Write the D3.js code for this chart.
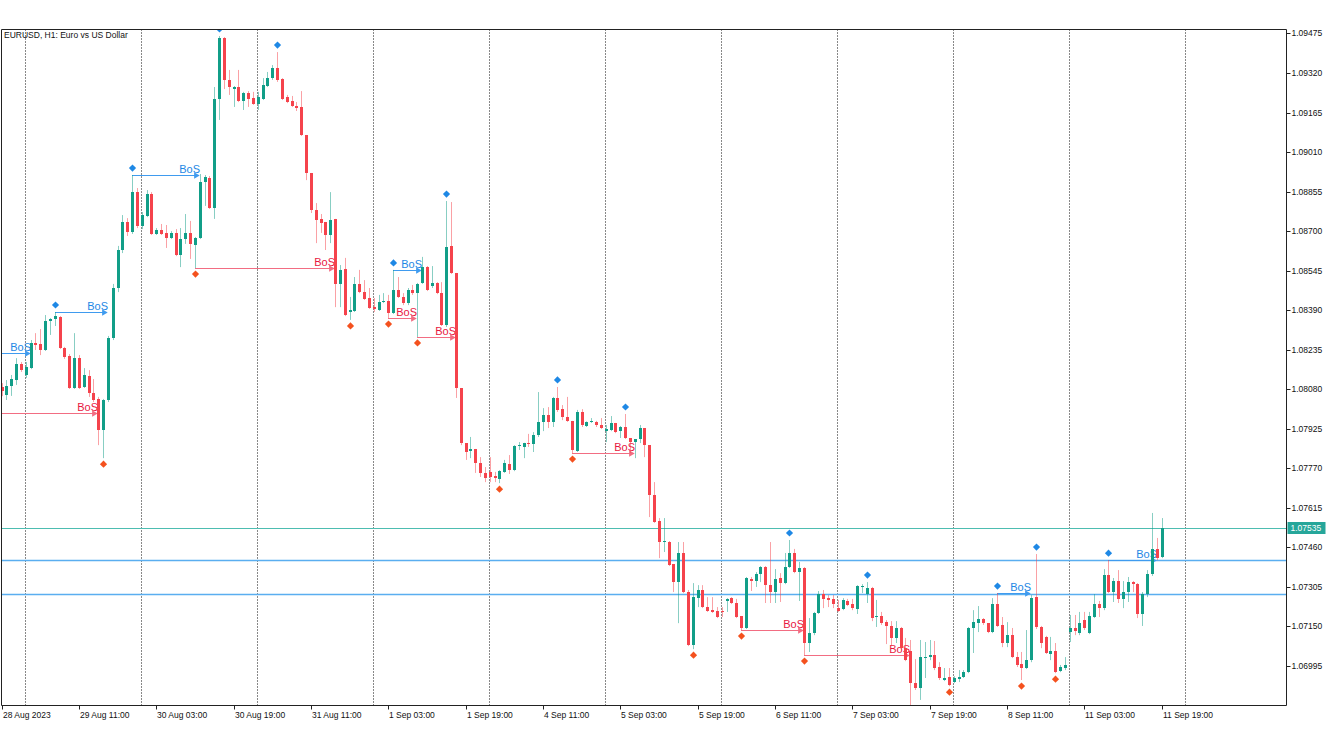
<!DOCTYPE html>
<html>
<head>
<meta charset="utf-8">
<script src="https://cdn.jsdelivr.net/npm/d3@7"></script>
<style>
  body { margin: 0; background: #fff; }
  svg { display: block; }
  text { font-family: "Liberation Sans", Arial, sans-serif; }
</style>
</head>
<body>
<svg id="chart" width="1333" height="750"></svg>
<script>
// EURUSD, H1 - 28 Aug 2023 19:00 .. 11 Sep 2023 19:00

var tradingDays = ["2023-08-28", "2023-08-29", "2023-08-30", "2023-08-31", "2023-09-01",
                   "2023-09-04", "2023-09-05", "2023-09-06", "2023-09-07", "2023-09-08", "2023-09-11"];

var opens = [
  1.08089,1.08057,1.08093,1.08116,1.08179,1.08136,1.08163,1.08261,1.08257,1.08234,
  1.08348,1.08355,1.08363,1.08242,1.08210,1.08085,1.08203,1.08089,1.08132,1.08065,
  1.08042,1.07920,1.08038,1.08281,1.08477,1.08626,1.08736,1.08697,1.08853,1.08720,
  1.08759,1.08845,1.08689,1.08704,1.08693,1.08673,1.08693,1.08606,1.08669,1.08693,
  1.08646,1.08673,1.08893,1.08908,1.08791,1.09218,1.09457,1.09293,1.09257,1.09265,
  1.09210,1.09242,1.09222,1.09198,1.09218,1.09269,1.09300,1.09340,1.09296,1.09226,
  1.09210,1.09191,1.09187,1.09077,1.08928,1.08783,1.08748,1.08736,1.08685,1.08748,
  1.08493,1.08551,1.08383,1.08387,1.08493,1.08461,1.08438,1.08402,1.08391,1.08422,
  1.08426,1.08379,1.08469,1.08442,1.08418,1.08469,1.08457,1.08497,1.08559,1.08485,
  1.08497,1.08457,1.08332,1.08642,1.08536,1.08085,1.07869,1.07838,1.07846,1.07791,
  1.07752,1.07756,1.07740,1.07728,1.07756,1.07787,1.07763,1.07858,1.07854,1.07869,
  1.07865,1.07901,1.07952,1.07979,1.07952,1.08046,1.08002,1.07971,1.07956,1.07838,
  1.07991,1.07936,1.07952,1.07952,1.07940,1.07916,1.07920,1.07948,1.07916,1.07932,
  1.07889,1.07873,1.07885,1.07928,1.07861,1.07665,1.07563,1.07481,1.07481,1.07395,
  1.07324,1.07438,1.07285,1.07077,1.07261,1.07293,1.07226,1.07214,1.07210,1.07210,
  1.07250,1.07261,1.07242,1.07191,1.07144,1.07336,1.07328,1.07356,1.07383,1.07312,
  1.07285,1.07340,1.07320,1.07383,1.07438,1.07363,1.07379,1.07085,1.07124,1.07203,
  1.07277,1.07261,1.07258,1.07222,1.07218,1.07250,1.07238,1.07218,1.07305,1.07277,
  1.07301,1.07187,1.07191,1.07167,1.07152,1.07105,1.07144,1.07065,1.07054,1.06928,
  1.06908,1.07026,1.07030,1.07038,1.06991,1.06940,1.06952,1.06932,1.06944,1.06952,
  1.06971,1.07144,1.07163,1.07179,1.07163,1.07128,1.07238,1.07156,1.07085,1.07116,
  1.07030,1.07003,1.06987,1.07018,1.07265,1.07148,1.07109,1.07042,1.07054,1.06975,
  1.06987,1.07128,1.07144,1.07124,1.07175,1.07124,1.07187,1.07238,1.07222,1.07352,
  1.07285,1.07328,1.07258,1.07285,1.07324,1.07316,1.07199,1.07277,1.07356,1.07454,1.07422
];
var highs = [
  1.08104,1.08116,1.08136,1.08202,1.08187,1.08187,1.08273,1.08300,1.08316,1.08371,
  1.08359,1.08383,1.08367,1.08246,1.08218,1.08300,1.08214,1.08163,1.08155,1.08120,
  1.08050,1.08042,1.08289,1.08493,1.08642,1.08763,1.08751,1.08920,1.08869,1.08775,
  1.08861,1.08853,1.08712,1.08728,1.08724,1.08700,1.08708,1.08712,1.08767,1.08740,
  1.08677,1.08924,1.08920,1.08916,1.09265,1.09465,1.09461,1.09332,1.09269,1.09332,
  1.09246,1.09249,1.09246,1.09246,1.09300,1.09324,1.09351,1.09402,1.09300,1.09234,
  1.09230,1.09206,1.09249,1.09077,1.08928,1.08810,1.08767,1.08736,1.08853,1.08748,
  1.08567,1.08595,1.08442,1.08520,1.08548,1.08508,1.08477,1.08438,1.08450,1.08457,
  1.08450,1.08548,1.08520,1.08457,1.08477,1.08489,1.08497,1.08599,1.08563,1.08563,
  1.08500,1.08500,1.08818,1.08814,1.08536,1.08085,1.07869,1.07893,1.07846,1.07814,
  1.07775,1.07814,1.07756,1.07763,1.07803,1.07822,1.07861,1.07873,1.07870,1.07905,
  1.07912,1.08069,1.08006,1.08010,1.08050,1.08089,1.08018,1.08050,1.07956,1.07999,
  1.08002,1.07954,1.07967,1.07956,1.07967,1.07940,1.07975,1.07948,1.07936,1.07983,
  1.07889,1.07885,1.07940,1.07928,1.07861,1.07716,1.07575,1.07575,1.07485,1.07395,
  1.07481,1.07481,1.07293,1.07320,1.07312,1.07312,1.07265,1.07265,1.07226,1.07226,
  1.07261,1.07265,1.07258,1.07191,1.07344,1.07344,1.07363,1.07387,1.07387,1.07481,
  1.07375,1.07359,1.07438,1.07489,1.07454,1.07403,1.07383,1.07183,1.07207,1.07289,
  1.07293,1.07273,1.07273,1.07254,1.07261,1.07258,1.07258,1.07312,1.07316,1.07324,
  1.07305,1.07254,1.07207,1.07175,1.07171,1.07171,1.07148,1.07105,1.07097,1.07022,
  1.07097,1.07089,1.07097,1.07093,1.07010,1.06987,1.06987,1.06955,1.06979,1.06979,
  1.07148,1.07214,1.07230,1.07183,1.07163,1.07261,1.07281,1.07187,1.07167,1.07144,
  1.07050,1.07050,1.07136,1.07273,1.07434,1.07152,1.07113,1.07109,1.07085,1.06999,
  1.07030,1.07195,1.07195,1.07207,1.07207,1.07207,1.07277,1.07250,1.07375,1.07410,
  1.07340,1.07371,1.07328,1.07344,1.07328,1.07320,1.07285,1.07371,1.07595,1.07497,1.07575
];
var lows = [
  1.08053,1.08038,1.08054,1.08097,1.08148,1.08124,1.08159,1.08234,1.08214,1.08230,
  1.08293,1.08328,1.08238,1.08199,1.08081,1.08081,1.08081,1.08085,1.08050,1.08030,
  1.07861,1.07810,1.08030,1.08273,1.08461,1.08614,1.08681,1.08689,1.08712,1.08708,
  1.08755,1.08685,1.08685,1.08685,1.08634,1.08669,1.08602,1.08559,1.08650,1.08591,
  1.08555,1.08669,1.08799,1.08787,1.08748,1.09136,1.09257,1.09234,1.09187,1.09206,
  1.09175,1.09187,1.09195,1.09175,1.09214,1.09265,1.09293,1.09285,1.09214,1.09202,
  1.09187,1.09171,1.09073,1.08900,1.08771,1.08653,1.08693,1.08626,1.08653,1.08402,
  1.08402,1.08367,1.08352,1.08383,1.08457,1.08430,1.08395,1.08383,1.08387,1.08418,
  1.08359,1.08375,1.08438,1.08410,1.08410,1.08450,1.08285,1.08493,1.08465,1.08477,
  1.08453,1.08328,1.08324,1.08532,1.08046,1.07861,1.07803,1.07810,1.07752,1.07736,
  1.07716,1.07716,1.07716,1.07712,1.07752,1.07748,1.07759,1.07842,1.07810,1.07854,
  1.07834,1.07893,1.07916,1.07928,1.07932,1.07991,1.07959,1.07952,1.07830,1.07834,
  1.07932,1.07932,1.07948,1.07932,1.07924,1.07873,1.07916,1.07908,1.07889,1.07885,
  1.07830,1.07810,1.07869,1.07814,1.07579,1.07556,1.07418,1.07442,1.07387,1.07285,
  1.07163,1.07281,1.07073,1.07061,1.07226,1.07222,1.07207,1.07203,1.07183,1.07187,
  1.07207,1.07238,1.07183,1.07136,1.07140,1.07289,1.07305,1.07324,1.07242,1.07242,
  1.07242,1.07246,1.07316,1.07379,1.07359,1.07250,1.07038,1.07050,1.07116,1.07199,
  1.07222,1.07226,1.07222,1.07207,1.07214,1.07230,1.07214,1.07199,1.07281,1.07242,
  1.07171,1.07148,1.07156,1.07081,1.07077,1.07085,1.07058,1.07014,1.06842,1.06901,
  1.06862,1.06948,1.07018,1.06979,1.06940,1.06936,1.06916,1.06928,1.06932,1.06948,
  1.06967,1.07046,1.07128,1.07156,1.07124,1.07124,1.07148,1.07069,1.07069,1.07026,
  1.06991,1.06940,1.06983,1.07010,1.07140,1.07065,1.07042,1.07018,1.06967,1.06971,
  1.06979,1.07089,1.07116,1.07116,1.07136,1.07120,1.07183,1.07187,1.07214,1.07281,
  1.07246,1.07242,1.07222,1.07246,1.07285,1.07183,1.07152,1.07265,1.07348,1.07410,1.07418
];
var closes = [
  1.08073,1.08093,1.08120,1.08179,1.08155,1.08167,1.08261,1.08253,1.08234,1.08348,
  1.08355,1.08367,1.08242,1.08206,1.08085,1.08203,1.08085,1.08136,1.08065,1.08038,
  1.07920,1.08038,1.08281,1.08477,1.08626,1.08736,1.08697,1.08853,1.08720,1.08763,
  1.08845,1.08689,1.08704,1.08689,1.08673,1.08693,1.08606,1.08669,1.08693,1.08650,
  1.08673,1.08893,1.08912,1.08791,1.09218,1.09457,1.09293,1.09265,1.09265,1.09210,
  1.09242,1.09218,1.09198,1.09226,1.09273,1.09300,1.09340,1.09293,1.09218,1.09206,
  1.09191,1.09183,1.09077,1.08928,1.08783,1.08744,1.08732,1.08685,1.08744,1.08493,
  1.08548,1.08371,1.08391,1.08493,1.08461,1.08434,1.08398,1.08395,1.08422,1.08426,
  1.08379,1.08469,1.08442,1.08418,1.08469,1.08457,1.08493,1.08559,1.08469,1.08497,
  1.08457,1.08332,1.08638,1.08536,1.08085,1.07869,1.07834,1.07846,1.07791,1.07752,
  1.07732,1.07736,1.07732,1.07759,1.07791,1.07763,1.07858,1.07861,1.07869,1.07865,
  1.07901,1.07952,1.07979,1.07952,1.08046,1.07999,1.07971,1.07956,1.07842,1.07991,
  1.07940,1.07952,1.07956,1.07940,1.07928,1.07924,1.07948,1.07912,1.07932,1.07889,
  1.07873,1.07885,1.07928,1.07861,1.07665,1.07560,1.07481,1.07485,1.07391,1.07324,
  1.07438,1.07285,1.07077,1.07265,1.07293,1.07226,1.07210,1.07207,1.07187,1.07207,
  1.07258,1.07242,1.07187,1.07144,1.07340,1.07328,1.07356,1.07383,1.07312,1.07285,
  1.07336,1.07320,1.07383,1.07438,1.07363,1.07379,1.07085,1.07124,1.07203,1.07277,
  1.07258,1.07254,1.07238,1.07210,1.07254,1.07234,1.07222,1.07308,1.07308,1.07301,
  1.07183,1.07191,1.07163,1.07152,1.07105,1.07144,1.07065,1.07018,1.06928,1.06908,
  1.07030,1.07030,1.07038,1.06987,1.06948,1.06948,1.06920,1.06948,1.06952,1.06971,
  1.07144,1.07167,1.07179,1.07163,1.07128,1.07238,1.07152,1.07085,1.07116,1.07030,
  1.06999,1.06987,1.07018,1.07261,1.07148,1.07085,1.07046,1.07054,1.06971,1.06991,
  1.06999,1.07144,1.07132,1.07163,1.07144,1.07191,1.07238,1.07222,1.07352,1.07285,
  1.07328,1.07258,1.07285,1.07324,1.07316,1.07199,1.07277,1.07356,1.07454,1.07418,1.07535
];

// swing points (bar numbers)
var swingHighBars = [11, 27, 45, 57, 81, 92, 115, 129, 163, 179, 206, 214, 229];
var swingLowBars = [21, 40, 72, 80, 86, 103, 118, 143, 153, 166, 188, 196, 211, 218];

// break of structure: from swing bar to breaking bar (-6 = swing left of the window)
var bullBosFrom = [-6, 11, 27, 81, 206, 229];
var bullBosTo = [6, 22, 41, 87, 213, 239];
var bullBosOffLevel = 1.08222;
var bearBosFrom = [-6, 40, 80, 86, 118, 153, 166];
var bearBosTo = [20, 69, 86, 94, 131, 166, 188];
var bearBosOffLevel = 1.07988;

var levelLines = [1.07411, 1.07277];

var priceTicks = [1.06995, 1.07150, 1.07305, 1.07460, 1.07615, 1.07770, 1.07925, 1.08080, 1.08235,
                  1.08390, 1.08545, 1.08700, 1.08855, 1.09010, 1.09165, 1.09320, 1.09475];
var timeLabels = ["28 Aug 2023", "29 Aug 11:00", "30 Aug 03:00", "30 Aug 19:00", "31 Aug 11:00",
                  "1 Sep 03:00", "1 Sep 19:00", "4 Sep 11:00", "5 Sep 03:00", "5 Sep 19:00",
                  "6 Sep 11:00", "7 Sep 03:00", "7 Sep 19:00", "8 Sep 11:00", "11 Sep 03:00", "11 Sep 19:00"];

var title = "EURUSD, H1:  Euro vs US Dollar";

// ---- colours
var bullCol = '#119e88', bearCol = '#f5434c',
    blueCol = '#1e88e5', blueLine = '#3f9bef',
    redText = '#e8173f', redLine = '#f26d82',
    lowMark = '#f4511e', bidCol = '#26a69a';

// ---- bar times
var times = [];
tradingDays.forEach(function(day, k) {
  var h0 = k === 0 ? 19 : 0,
      h1 = k === tradingDays.length - 1 ? 19 : 23;
  for (var h = h0; h <= h1; h++) {
    times.push(d3.timeParse('%Y-%m-%d %H')(day + ' ' + h));
  }
});

var svg = d3.select('#chart');
var frame = {left: 1.5, top: 29.5, right: 1286.5, bottom: 705.5};

var x = d3.scaleLinear().domain([0, 24]).range([1.5, 117.5]),
    y = d3.scaleLinear().domain([1.06995, 1.09320]).range([666, 73]);

var px = function(i) { return Math.round(x(i)); };

svg.append('rect').attr('width', 1333).attr('height', 750).attr('fill', '#fff');

svg.append('clipPath').attr('id', 'clip')
  .append('rect')
  .attr('x', frame.left + 0.5).attr('y', frame.top + 0.5)
  .attr('width', frame.right - frame.left - 1).attr('height', frame.bottom - frame.top - 1);

var plot = svg.append('g').attr('clip-path', 'url(#clip)');

// day separators
var dayStarts = d3.range(times.length).filter(function(i) { return times[i].getHours() === 0; });
var last = times.length - 1;
dayStarts.push(last + (24 - times[last].getHours()));

plot.selectAll('line.day').data(dayStarts).join('line')
  .attr('class', 'day')
  .attr('x1', function(i) { return px(i) - 0.5; })
  .attr('x2', function(i) { return px(i) - 0.5; })
  .attr('y1', frame.top).attr('y2', frame.bottom)
  .attr('stroke', '#111').attr('stroke-dasharray', '1,2');

// horizontal levels
plot.selectAll('line.level').data(levelLines).join('line')
  .attr('class', 'level')
  .attr('x1', frame.left).attr('x2', frame.right)
  .attr('y1', function(d) { return Math.round(y(d)) + 0.5; })
  .attr('y2', function(d) { return Math.round(y(d)) + 0.5; })
  .attr('stroke', '#5aaef0').attr('stroke-width', 1.5);

var bid = closes[last];
plot.append('line')
  .attr('x1', frame.left).attr('x2', frame.right)
  .attr('y1', Math.round(y(bid)) + 0.5).attr('y2', Math.round(y(bid)) + 0.5)
  .attr('stroke', '#4dbdb1');

// BoS lines
function bos(from, to, level, lineCol, textCol) {
  var yy = Math.round(y(level)) + 0.5,
      x0 = from < 0 ? frame.left : px(from),
      x1 = px(to) - 1;
  plot.append('line')
    .attr('x1', x0).attr('x2', x1 - 3)
    .attr('y1', yy).attr('y2', yy)
    .attr('stroke', lineCol);
  plot.append('path')
    .attr('d', d3.symbol(d3.symbolTriangle, 18)())
    .attr('transform', 'translate(' + (x1 - 3) + ',' + yy + ') rotate(90)')
    .attr('fill', lineCol);
  plot.append('text')
    .attr('x', x1 + 1).attr('y', yy - 3)
    .attr('text-anchor', 'end')
    .attr('font-size', 11)
    .attr('fill', textCol)
    .text('BoS');
}

bullBosFrom.forEach(function(f, k) {
  bos(f, bullBosTo[k], f < 0 ? bullBosOffLevel : highs[f], blueLine, blueCol);
});
bearBosFrom.forEach(function(f, k) {
  bos(f, bearBosTo[k], f < 0 ? bearBosOffLevel : lows[f], redLine, redText);
});

// candles
var bars = d3.range(closes.length);
var up = function(i) { return closes[i] >= opens[i]; };

plot.selectAll('line.wick').data(bars).join('line')
  .attr('class', 'wick')
  .attr('x1', function(i) { return px(i) + 0.5; })
  .attr('x2', function(i) { return px(i) + 0.5; })
  .attr('y1', function(i) { return y(highs[i]); })
  .attr('y2', function(i) { return y(lows[i]); })
  .attr('stroke', function(i) { return up(i) ? bullCol : bearCol; })
  .attr('stroke-opacity', 0.5);

plot.selectAll('rect.body').data(bars).join('rect')
  .attr('class', 'body')
  .attr('x', function(i) { return px(i) - 1; })
  .attr('width', 3)
  .attr('y', function(i) { return Math.round(y(Math.max(opens[i], closes[i]))); })
  .attr('height', function(i) {
    return Math.max(1, Math.round(Math.abs(y(opens[i]) - y(closes[i]))));
  })
  .attr('fill', function(i) { return up(i) ? bullCol : bearCol; });

// swing markers
var diamond = d3.symbol(d3.symbolSquare, 26)();
plot.selectAll('path.sh').data(swingHighBars).join('path')
  .attr('class', 'sh')
  .attr('d', diamond)
  .attr('transform', function(i) {
    return 'translate(' + (px(i) + 0.5) + ',' + (y(highs[i]) - 7) + ') rotate(45)';
  })
  .attr('fill', blueCol);
plot.selectAll('path.sl').data(swingLowBars).join('path')
  .attr('class', 'sl')
  .attr('d', diamond)
  .attr('transform', function(i) {
    return 'translate(' + (px(i) + 0.5) + ',' + (y(lows[i]) + 6) + ') rotate(45)';
  })
  .attr('fill', lowMark);

// title
svg.append('text')
  .attr('x', 4).attr('y', 38)
  .attr('font-size', 8.5).attr('fill', '#111')
  .text(title);

// frame
svg.append('path')
  .attr('d', 'M' + frame.left + ',' + frame.bottom + 'V' + frame.top + 'H' + frame.right + 'V' + frame.bottom + 'Z')
  .attr('fill', 'none').attr('stroke', '#222');

// price axis
var yAxis = svg.append('g');
yAxis.selectAll('line').data(priceTicks).join('line')
  .attr('x1', frame.right).attr('x2', frame.right + 4)
  .attr('y1', function(d) { return Math.round(y(d)) + 0.5; })
  .attr('y2', function(d) { return Math.round(y(d)) + 0.5; })
  .attr('stroke', '#222');
yAxis.selectAll('text').data(priceTicks).join('text')
  .attr('x', frame.right + 5)
  .attr('y', function(d) { return y(d) + 3; })
  .attr('font-size', 8.5).attr('fill', '#111')
  .text(function(d) { return d.toFixed(5); });

// bid label
svg.append('rect')
  .attr('x', frame.right + 1).attr('y', Math.round(y(bid)) - 6)
  .attr('width', 38).attr('height', 12)
  .attr('fill', bidCol);
svg.append('text')
  .attr('x', frame.right + 4).attr('y', y(bid) + 3)
  .attr('font-size', 8.5).attr('fill', '#fff')
  .text(bid.toFixed(5));

// time axis
var fmtHour = d3.timeFormat('%-d %b %H:%M'),
    fmtYear = d3.timeFormat('%-d %b %Y');
var timeTicks = timeLabels.map(function(lab) {
  var i = d3.range(times.length).find(function(j) {
    return fmtHour(times[j]) === lab || (j === 0 && fmtYear(times[j]) === lab);
  });
  return {bar: i, label: lab};
});

var xAxis = svg.append('g');
xAxis.selectAll('line').data(timeTicks).join('line')
  .attr('x1', function(d) { return px(d.bar) + 0.5; })
  .attr('x2', function(d) { return px(d.bar) + 0.5; })
  .attr('y1', frame.bottom).attr('y2', frame.bottom + 4)
  .attr('stroke', '#222');
xAxis.selectAll('text').data(timeTicks).join('text')
  .attr('x', function(d) { return px(d.bar) + 1; })
  .attr('y', frame.bottom + 12)
  .attr('font-size', 8.5).attr('fill', '#111')
  .text(function(d) { return d.label; });
</script>
</body>
</html>
